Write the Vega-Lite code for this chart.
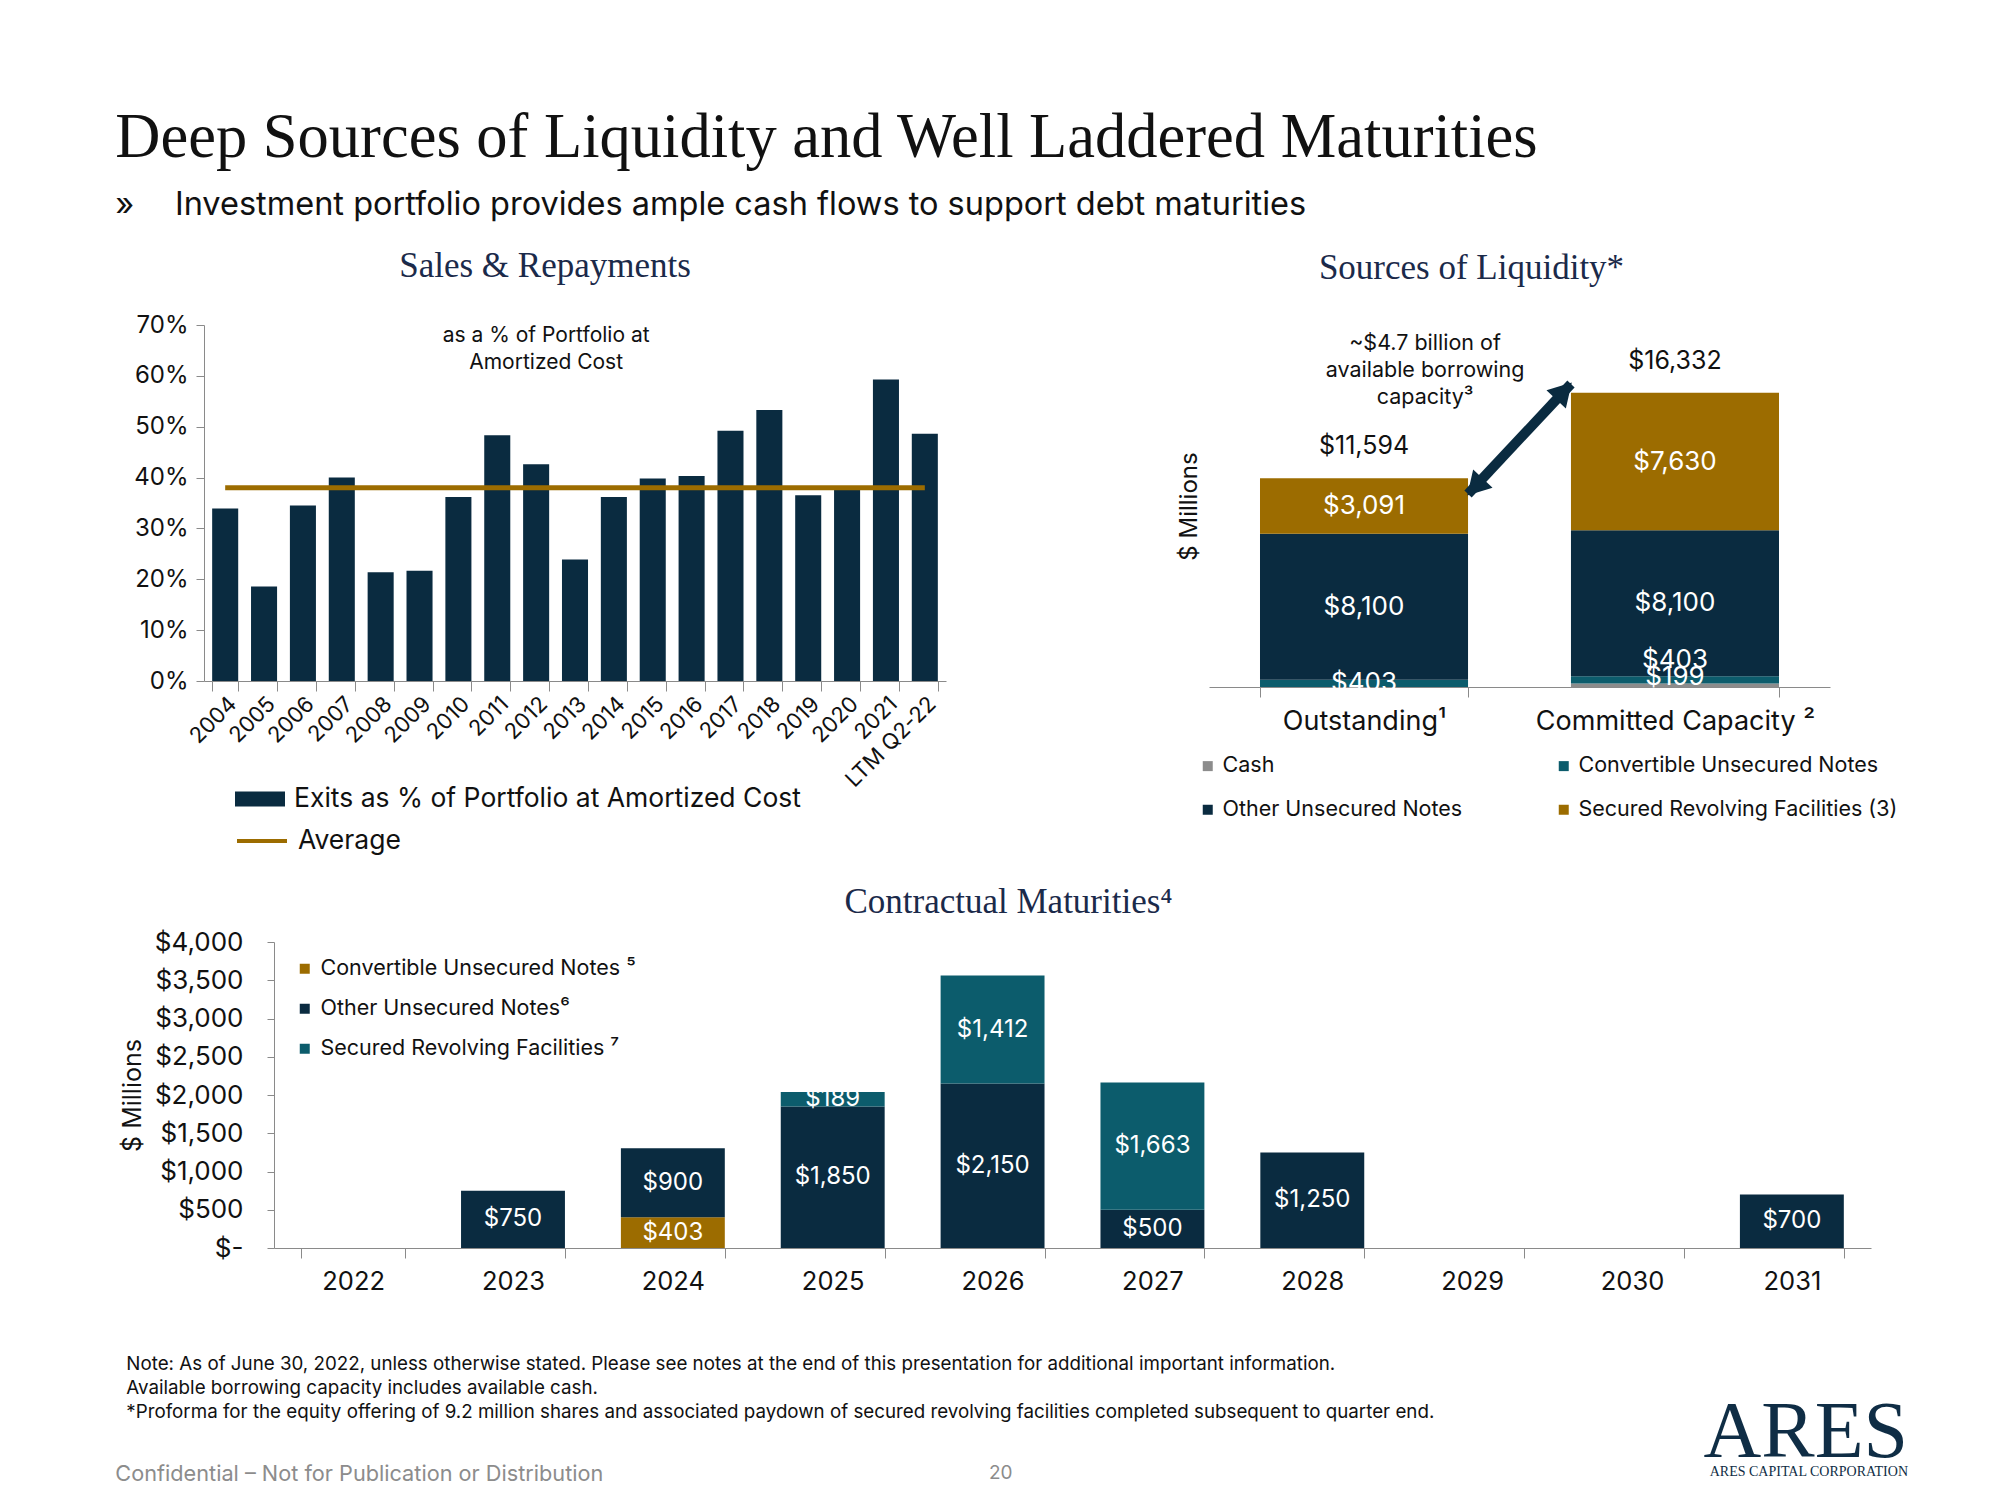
{
  "$schema": "https://vega.github.io/schema/vega-lite/v6.json",
  "background": "white",
  "padding": {"left": 115, "top": 107, "right": 10, "bottom": 0},
  "config": {
    "view": {"stroke": null},
    "font": "Inter",
    "axis": {"labelFont": "Inter", "titleFont": "Inter", "domainColor": "#8A8A8A", "tickColor": "#8A8A8A", "labelColor": "#111111", "titleColor": "#111111", "grid": false, "titleFontWeight": "normal", "labelLimit": 0, "labelOverlap": false},
    "legend": {"labelFont": "Inter", "labelColor": "#111111", "labelLimit": 0},
    "title": {"font": "Liberation Serif", "fontWeight": "normal"}
  },
  "title": {"text": "ARES", "subtitle": "ARES CAPITAL CORPORATION", "orient": "bottom", "anchor": "end", "font": "Liberation Serif", "fontSize": 80, "color": "#0F2D45", "subtitleFont": "Liberation Serif", "subtitleFontSize": 14, "subtitleColor": "#0F2D45", "subtitlePadding": -9, "dy": -92, "dx": 10, "offset": 0},
  "vconcat": [
    {
      "title": {"text": "20", "orient": "bottom", "anchor": "middle", "font": "Inter", "fontSize": 19, "color": "#8C8C8C", "dy": -22, "dx": -6, "offset": 0},
      "vconcat": [
        {
          "title": {"text": "Confidential – Not for Publication or Distribution", "orient": "bottom", "anchor": "start", "font": "Inter", "fontSize": 21.7, "color": "#8C8C8C", "offset": 43},
          "vconcat": [
            {
              "title": {"text": ["Note: As of June 30, 2022, unless otherwise stated. Please see notes at the end of this presentation for additional important information.", "Available borrowing capacity includes available cash.", "*Proforma for the equity offering of 9.2 million shares and associated paydown of secured revolving facilities completed subsequent to quarter end."], "orient": "bottom", "anchor": "start", "font": "Inter", "fontSize": 18.75, "color": "#111111", "lineHeight": 24, "offset": 60, "dx": 11},
              "vconcat": [
                {
                  "title": {"text": "Deep Sources of Liquidity and Well Laddered Maturities", "subtitle": "»\u2003\u2005Investment portfolio provides ample cash flows to support debt maturities", "anchor": "start", "orient": "top", "fontSize": 62.5, "color": "#111111", "subtitleFont": "Inter", "subtitleFontSize": 32.5, "subtitleColor": "#111111", "subtitlePadding": 18, "offset": 27, "dx": -5},
                  "spacing": 64,
                  "resolve": {"scale": {"color": "independent"}, "legend": {"color": "independent"}},
                  "vconcat": [
                    {
                      "spacing": 231,
                      "resolve": {"scale": {"color": "independent"}, "legend": {"color": "independent"}},
                      "hconcat": [
                        {
                          "width": 742,
                          "height": 356,
                          "title": {"text": "Sales & Repayments", "fontSize": 35, "color": "#1B2A4A", "offset": 29, "anchor": "middle", "dx": -30},
                          "data": {"values": [
                            {"period": "2004", "exits": 0.339, "average": 0.38},
                            {"period": "2005", "exits": 0.186, "average": 0.38},
                            {"period": "2006", "exits": 0.345, "average": 0.38},
                            {"period": "2007", "exits": 0.400, "average": 0.38},
                            {"period": "2008", "exits": 0.214, "average": 0.38},
                            {"period": "2009", "exits": 0.217, "average": 0.38},
                            {"period": "2010", "exits": 0.362, "average": 0.38},
                            {"period": "2011", "exits": 0.483, "average": 0.38},
                            {"period": "2012", "exits": 0.426, "average": 0.38},
                            {"period": "2013", "exits": 0.239, "average": 0.38},
                            {"period": "2014", "exits": 0.362, "average": 0.38},
                            {"period": "2015", "exits": 0.398, "average": 0.38},
                            {"period": "2016", "exits": 0.403, "average": 0.38},
                            {"period": "2017", "exits": 0.492, "average": 0.38},
                            {"period": "2018", "exits": 0.533, "average": 0.38},
                            {"period": "2019", "exits": 0.365, "average": 0.38},
                            {"period": "2020", "exits": 0.378, "average": 0.38},
                            {"period": "2021", "exits": 0.593, "average": 0.38},
                            {"period": "LTM Q2-22", "exits": 0.486, "average": 0.38}
                          ]},
                          "layer": [
                            {
                              "mark": {"type": "bar"},
                              "encoding": {
                                "x": {"field": "period", "type": "ordinal", "sort": null, "title": null, "scale": {"paddingInner": 0.33, "paddingOuter": 0.21}, "axis": {"title": null, "labelAngle": -45, "labelFontSize": 22, "tickBand": "extent", "tickSize": 10, "labelPadding": 2}},
                                "y": {"field": "exits", "type": "quantitative", "title": null, "scale": {"domain": [0, 0.7], "nice": false}, "axis": {"title": null, "format": ".0%", "values": [0, 0.1, 0.2, 0.3, 0.4, 0.5, 0.6, 0.7], "labelFontSize": 24, "tickSize": 8, "labelPadding": 8, "labelOverlap": false}},
                                "fill": {"datum": "Exits as % of Portfolio at Amortized Cost", "scale": {"range": ["#0A2B40"]}, "legend": {"orient": "none", "legendX": 31, "legendY": 449, "title": null, "symbolType": "M-1,-0.3H1V0.3H-1Z", "symbolSize": 2500, "labelFontSize": 26.5, "labelOffset": 9, "symbolStrokeWidth": 0}}
                              }
                            },
                            {
                              "mark": {"type": "line", "strokeWidth": 5},
                              "encoding": {
                                "x": {"field": "period", "type": "ordinal", "sort": null, "title": null},
                                "y": {"field": "average", "type": "quantitative", "title": null},
                                "stroke": {"datum": "Average", "scale": {"range": ["#9C6C00"]}, "legend": {"orient": "none", "legendX": 31, "legendY": 489, "title": null, "symbolType": "stroke", "symbolSize": 2500, "symbolStrokeWidth": 4, "labelFontSize": 26.5, "labelOffset": 9}}
                              }
                            },
                            {
                              "data": {"values": [{}]},
                              "mark": {"type": "text", "text": ["as a % of Portfolio at", "Amortized Cost"], "fontSize": 21, "lineHeight": 27, "color": "#111111", "baseline": "middle", "align": "center", "dx": 10},
                              "encoding": {
                                "x": {"datum": "2012", "type": "ordinal", "title": null},
                                "y": {"datum": 0.678, "type": "quantitative", "title": null}
                              }
                            }
                          ]
                        },
                        {
                          "width": 621,
                          "height": 362,
                          "title": {"text": "Sources of Liquidity*", "fontSize": 35, "color": "#1B2A4A", "offset": 39, "anchor": "middle", "dx": -48},
                          "data": {"values": [
                            {"cat": "Outstanding¹", "series": "Convertible Unsecured Notes", "value": 403},
                            {"cat": "Outstanding¹", "series": "Other Unsecured Notes", "value": 8100},
                            {"cat": "Outstanding¹", "series": "Secured Revolving Facilities (3)", "value": 3091},
                            {"cat": "Committed Capacity ²", "series": "Cash", "value": 199},
                            {"cat": "Committed Capacity ²", "series": "Convertible Unsecured Notes", "value": 403},
                            {"cat": "Committed Capacity ²", "series": "Other Unsecured Notes", "value": 8100},
                            {"cat": "Committed Capacity ²", "series": "Secured Revolving Facilities (3)", "value": 7630}
                          ]},
                          "transform": [{"stack": "value", "groupby": ["cat"], "sort": [{"field": "series", "order": "ascending"}], "as": ["v0", "v1"]}],
                          "encoding": {
                            "x": {"field": "cat", "type": "nominal", "title": null, "scale": {"domain": ["Outstanding¹", "Committed Capacity ²"], "paddingInner": 0.331, "paddingOuter": 0.164}, "axis": {"title": null, "labelAngle": 0, "labelFontSize": 27, "tickBand": "extent", "tickSize": 10, "labelPadding": 11}}
                          },
                          "layer": [
                            {
                              "mark": {"type": "bar"},
                              "encoding": {
                                "y": {"field": "v0", "type": "quantitative", "title": "$ Millions", "scale": {"domain": [0, 20100], "nice": false}, "axis": {"title": "$ Millions", "labels": false, "ticks": false, "domain": false, "titleFontSize": 24, "titlePadding": 8}},
                                "y2": {"field": "v1"},
                                "color": {"field": "series", "type": "nominal", "scale": {"domain": ["Cash", "Convertible Unsecured Notes", "Other Unsecured Notes", "Secured Revolving Facilities (3)"], "range": ["#8C8C8C", "#0C5C6C", "#0A2B40", "#9C6C00"]}, "legend": {"orient": "none", "direction": "horizontal", "legendX": -12, "legendY": 430, "title": null, "columns": 2, "columnPadding": 90, "rowPadding": 21, "symbolType": "square", "symbolSize": 100, "labelFontSize": 21.5, "labelOffset": 4, "symbolStrokeWidth": 0}}
                              }
                            },
                            {
                              "transform": [
                                {"fold": ["v0", "v1"], "as": ["edge", "pos"]},
                                {"aggregate": [{"op": "mean", "field": "pos", "as": "mid"}], "groupby": ["cat", "series", "value"]},
                                {"filter": "datum.value >= 1000 || datum.cat == 'Outstanding¹'"}
                              ],
                              "mark": {"type": "text", "color": "white", "fontSize": 26, "baseline": "middle"},
                              "encoding": {
                                "y": {"field": "mid", "type": "quantitative", "title": "$ Millions"},
                                "text": {"field": "value", "type": "quantitative", "format": "$,.0f"}
                              }
                            },
                            {
                              "transform": [
                                {"fold": ["v0", "v1"], "as": ["edge", "pos"]},
                                {"aggregate": [{"op": "mean", "field": "pos", "as": "mid"}], "groupby": ["cat", "series", "value"]},
                                {"filter": "datum.cat == 'Committed Capacity ²' && datum.series == 'Convertible Unsecured Notes'"}
                              ],
                              "mark": {"type": "text", "color": "white", "fontSize": 26, "baseline": "middle", "dy": -20},
                              "encoding": {
                                "y": {"field": "mid", "type": "quantitative", "title": "$ Millions"},
                                "text": {"field": "value", "type": "quantitative", "format": "$,.0f"}
                              }
                            },
                            {
                              "transform": [
                                {"fold": ["v0", "v1"], "as": ["edge", "pos"]},
                                {"aggregate": [{"op": "mean", "field": "pos", "as": "mid"}], "groupby": ["cat", "series", "value"]},
                                {"filter": "datum.series == 'Cash'"}
                              ],
                              "mark": {"type": "text", "color": "white", "fontSize": 26, "baseline": "middle", "dy": -8},
                              "encoding": {
                                "y": {"field": "mid", "type": "quantitative", "title": "$ Millions"},
                                "text": {"field": "value", "type": "quantitative", "format": "$,.0f"}
                              }
                            },
                            {
                              "transform": [{"aggregate": [{"op": "sum", "field": "value", "as": "total"}], "groupby": ["cat"]}],
                              "mark": {"type": "text", "color": "#111111", "fontSize": 25, "baseline": "middle", "dy": -32},
                              "encoding": {
                                "y": {"field": "total", "type": "quantitative", "title": "$ Millions"},
                                "text": {"field": "total", "type": "quantitative", "format": "$,.0f"}
                              }
                            },
                            {
                              "data": {"values": [{}]},
                              "mark": {"type": "text", "text": ["~$4.7 billion of", "available borrowing", "capacity³"], "fontSize": 21.5, "lineHeight": 27, "color": "#111111", "baseline": "middle", "align": "center", "dx": 61},
                              "encoding": {
                                "x": {"datum": "Outstanding¹", "type": "nominal", "title": null},
                                "y": {"datum": 19045, "type": "quantitative", "title": "$ Millions"}
                              }
                            },
                            {
                              "data": {"values": [{}]},
                              "mark": {"type": "rule", "strokeWidth": 10, "color": "#0A2B40"},
                              "encoding": {
                                "x": {"datum": "Outstanding¹", "type": "nominal", "bandPosition": 1, "title": null},
                                "x2": {"datum": "Committed Capacity ²", "bandPosition": 0},
                                "y": {"datum": 10716, "type": "quantitative", "title": "$ Millions"},
                                "y2": {"datum": 16824}
                              }
                            },
                            {
                              "data": {"values": [{}]},
                              "mark": {"type": "point", "shape": "triangle-up", "filled": true, "size": 700, "angle": 43, "color": "#0A2B40", "opacity": 1, "xOffset": -7, "yOffset": 7},
                              "encoding": {
                                "x": {"datum": "Committed Capacity ²", "type": "nominal", "bandPosition": 0, "title": null},
                                "y": {"datum": 16824, "type": "quantitative", "title": "$ Millions"}
                              }
                            },
                            {
                              "data": {"values": [{}]},
                              "mark": {"type": "point", "shape": "triangle-up", "filled": true, "size": 700, "angle": 223, "color": "#0A2B40", "opacity": 1, "xOffset": 7, "yOffset": -7},
                              "encoding": {
                                "x": {"datum": "Outstanding¹", "type": "nominal", "bandPosition": 1, "title": null},
                                "y": {"datum": 10716, "type": "quantitative", "title": "$ Millions"}
                              }
                            }
                          ]
                        }
                      ]
                    },
                    {
                      "vconcat": [
                        {
                          "width": 1667,
                          "height": 306,
                          "title": {"text": "Contractual Maturities⁴", "fontSize": 35, "color": "#1B2A4A", "offset": 9, "anchor": "middle", "dx": -29},
                          "data": {"values": [
                            {"year": "2023", "series": "Other Unsecured Notes⁶", "value": 750},
                            {"year": "2024", "series": "Convertible Unsecured Notes ⁵", "value": 403},
                            {"year": "2024", "series": "Other Unsecured Notes⁶", "value": 900},
                            {"year": "2025", "series": "Other Unsecured Notes⁶", "value": 1850},
                            {"year": "2025", "series": "Secured Revolving Facilities ⁷", "value": 189},
                            {"year": "2026", "series": "Other Unsecured Notes⁶", "value": 2150},
                            {"year": "2026", "series": "Secured Revolving Facilities ⁷", "value": 1412},
                            {"year": "2027", "series": "Other Unsecured Notes⁶", "value": 500},
                            {"year": "2027", "series": "Secured Revolving Facilities ⁷", "value": 1663},
                            {"year": "2028", "series": "Other Unsecured Notes⁶", "value": 1250},
                            {"year": "2031", "series": "Other Unsecured Notes⁶", "value": 700}
                          ]},
                          "transform": [{"stack": "value", "groupby": ["year"], "sort": [{"field": "series", "order": "ascending"}], "as": ["v0", "v1"]}],
                          "encoding": {
                            "x": {"field": "year", "type": "ordinal", "title": null, "scale": {"domain": ["2022", "2023", "2024", "2025", "2026", "2027", "2028", "2029", "2030", "2031"], "range": [70, 1667], "paddingInner": 0.35, "paddingOuter": 0.17}, "axis": {"title": null, "labelAngle": 0, "labelFontSize": 25.5, "tickBand": "extent", "tickSize": 10, "labelPadding": 11}}
                          },
                          "layer": [
                            {
                              "mark": {"type": "bar"},
                              "encoding": {
                                "y": {"field": "v0", "type": "quantitative", "title": "$ Millions", "scale": {"domain": [0, 4000], "nice": false}, "axis": {"title": "$ Millions", "offset": -70, "values": [0, 500, 1000, 1500, 2000, 2500, 3000, 3500, 4000], "tickCount": 9, "labelExpr": "datum.value === 0 ? '$-' : '$' + format(datum.value, ',')", "labelOverlap": false, "labelFontSize": 26, "labelPadding": 24, "tickSize": 7, "titleFontSize": 25, "titlePadding": 9}},
                                "y2": {"field": "v1"},
                                "color": {"field": "series", "type": "nominal", "scale": {"domain": ["Convertible Unsecured Notes ⁵", "Other Unsecured Notes⁶", "Secured Revolving Facilities ⁷"], "range": ["#9C6C00", "#0A2B40", "#0C5C6C"]}, "legend": {"orient": "none", "legendX": 90, "legendY": 16, "title": null, "symbolType": "square", "symbolSize": 100, "labelFontSize": 21.5, "rowPadding": 17, "labelOffset": 5, "symbolStrokeWidth": 0}}
                              }
                            },
                            {
                              "transform": [
                                {"fold": ["v0", "v1"], "as": ["edge", "pos"]},
                                {"aggregate": [{"op": "mean", "field": "pos", "as": "mid"}], "groupby": ["year", "series", "value"]}
                              ],
                              "mark": {"type": "text", "color": "white", "fontSize": 24, "baseline": "middle"},
                              "encoding": {
                                "y": {"field": "mid", "type": "quantitative", "title": "$ Millions", "axis": {"title": "$ Millions", "offset": -70, "values": [0, 500, 1000, 1500, 2000, 2500, 3000, 3500, 4000], "tickCount": 9, "labelExpr": "datum.value === 0 ? '$-' : '$' + format(datum.value, ',')", "labelOverlap": false, "labelFontSize": 26, "labelPadding": 24, "tickSize": 7, "titleFontSize": 25, "titlePadding": 9}},
                                "text": {"field": "value", "type": "quantitative", "format": "$,.0f"}
                              }
                            }
                          ]
                        }
                      ]
                    }
                  ]
                }
              ]
            }
          ]
        }
      ]
    }
  ]
}
